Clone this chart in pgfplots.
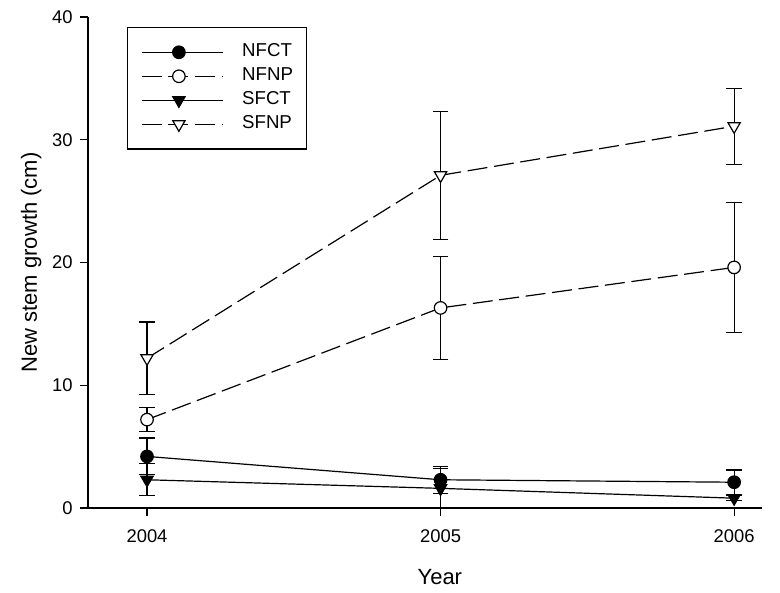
\documentclass[border=0pt]{standalone}
\usepackage{fontspec}
\setmainfont{Liberation Sans}
\usepackage{pgfplots}
\pgfplotsset{compat=1.18}
\begin{document}
\begin{tikzpicture}
\useasboundingbox (-66bp,-63.75bp) rectangle (519bp,381bp);
\begin{axis}[
  at={(0,0)}, anchor=south west,
  scale only axis, width=505.5bp, height=368.25bp,
  xmin=2003.799, xmax=2006.095, ymin=0, ymax=40,
  axis x line*=bottom, axis y line*=left,
  axis line style={line width=0.9bp, black},
  xtick={2004,2005,2006}, ytick={0,10,20,30,40},
  xticklabels={2004,2005,2006},
  tick align=outside, major tick length=6bp,
  tick style={line width=0.9bp, black},
  minor tick num=0,
  /pgf/number format/assume math mode=true,
  ticklabel style={font=\fontsize{13.8bp}{16bp}\selectfont},
  xticklabel style={yshift=-7bp},
  yticklabel style={xshift=-2bp},
  xlabel={Year}, ylabel={New stem growth (cm)},
  label style={font=\fontsize{16.5bp}{19bp}\selectfont},
  xlabel style={at={(rel axis cs:0.522,-0.1568)}, anchor=base},
  ylabel style={at={(rel axis cs:-0.0757,0.5)}, anchor=base},
  legend style={at={(rel axis cs:0.0579,0.9796)}, anchor=north west,
    draw=black, line width=0.9bp, font=\fontsize{14bp}{16bp}\selectfont,
    inner xsep=10bp, inner ysep=12bp, row sep=5bp, column sep=14bp,
    nodes={inner sep=0pt, text height=10bp, text depth=3bp}},
  legend cell align=left,
  legend image code/.code={\draw[mark repeat=2,mark phase=2] plot coordinates {(0bp,0bp) (28bp,0bp) (61bp,0bp)};},
  error bars/error bar style={solid, line width=0.9bp},
  error bars/error mark options={solid, rotate=90, mark size=5.9bp, line width=0.9bp},
]
\addplot[black, line width=0.9bp, mark=*, mark size=4.7bp, mark options={solid, fill=black},
  error bars/.cd, y dir=both, y explicit]
  table[x=x, y=y, y error=e] {
x y e
2004 4.2 1.5
2005 2.3 1.1
2006 2.1 1.0
};
\addlegendentry{NFCT}
\addplot[black, line width=0.9bp, dash pattern=on 15bp off 5bp, mark=*, mark size=4.7bp, mark options={solid, fill=white},
  error bars/.cd, y dir=both, y explicit]
  table[x=x, y=y, y error=e] {
x y e
2004 7.2 1.0
2005 16.3 4.2
2006 19.6 5.3
};
\addlegendentry{NFNP}
\addplot[black, line width=0.9bp, mark=triangle*, mark size=5.3bp, mark options={solid, fill=black, rotate=180},
  error bars/.cd, y dir=both, y explicit]
  table[x=x, y=y, y error=e] {
x y e
2004 2.3 1.3
2005 1.6 1.6
2006 0.8 0.2
};
\addlegendentry{SFCT}
\addplot[black, line width=0.9bp, dash pattern=on 15bp off 5bp, mark=triangle*, mark size=5.3bp, mark options={solid, fill=white, rotate=180},
  error bars/.cd, y dir=both, y explicit]
  table[x=x, y=y, y error=e] {
x y e
2004 12.2 2.95
2005 27.1 5.2
2006 31.1 3.1
};
\addlegendentry{SFNP}
\end{axis}
\end{tikzpicture}
\end{document}
